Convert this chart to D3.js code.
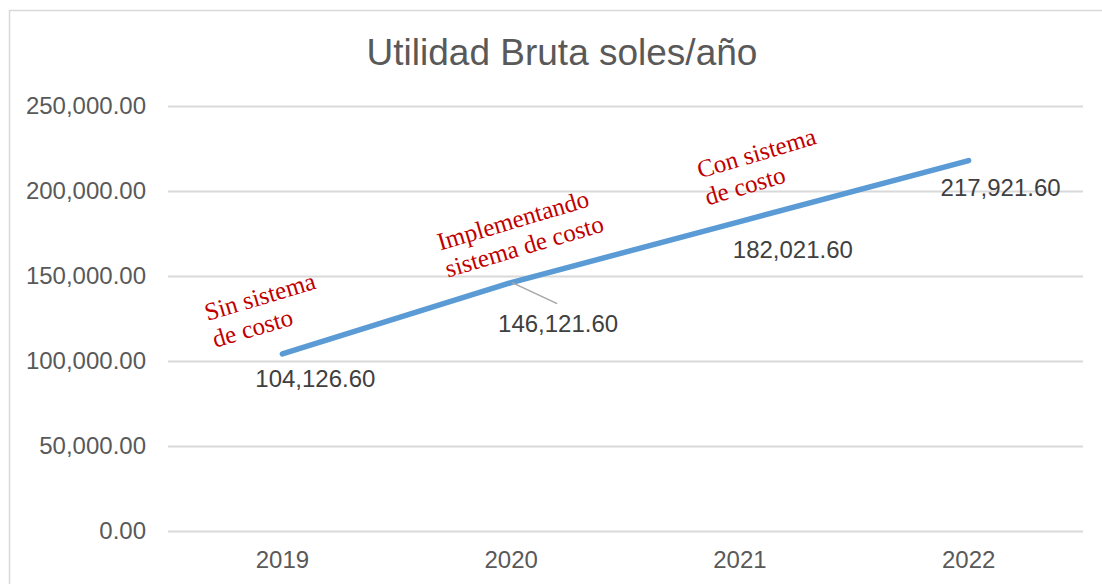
<!DOCTYPE html>
<html>
<head>
<meta charset="utf-8">
<script src="https://cdn.jsdelivr.net/npm/d3@7"></script>
<style>
  html, body { margin: 0; padding: 0; background: #fff; }
  svg { display: block; }
</style>
</head>
<body>
<svg id="chart"></svg>
<script>
const years = ["2019", "2020", "2021", "2022"];
const utilidad = [104126.60, 146121.60, 182021.60, 217921.60];
const yTicks = [0, 50000, 100000, 150000, 200000, 250000];
const notes = [
  ["Sin sistema", "de costo"],
  ["Implementando", "sistema de costo"],
  ["Con sistema", "de costo"],
];
const title = "Utilidad Bruta soles/año";

const width = 1102;
const height = 584;
const margin = { top: 106, right: 19, bottom: 53, left: 168 };

const svg = d3.select("#chart")
  .attr("width", width)
  .attr("height", height);

// chart area frame (runs past the bottom/right of the picture)
svg.append("rect")
  .attr("x", 9.5)
  .attr("y", 10.5)
  .attr("width", 1120)
  .attr("height", 620)
  .attr("fill", "#fff")
  .attr("stroke", "#d9d9d9")
  .attr("stroke-width", 1.5);

svg.append("text")
  .attr("x", 562)
  .attr("y", 65)
  .attr("text-anchor", "middle")
  .style("font-family", "'Liberation Sans', Arial, sans-serif")
  .style("font-size", "37px")
  .style("fill", "#595959")
  .text(title);

const x = d3.scaleBand()
  .domain(years)
  .range([margin.left, width - margin.right]);

const y = d3.scaleLinear()
  .domain([0, 250000])
  .range([height - margin.bottom, margin.top]);

const fmt = d3.format(",.2f");

// gridlines + y labels
const yAxis = svg.append("g")
  .attr("transform", `translate(${margin.left}, 0)`)
  .call(d3.axisLeft(y)
    .tickValues(yTicks)
    .tickFormat(fmt)
    .tickSize(-(width - margin.left - margin.right))
    .tickPadding(22));
yAxis.select(".domain").remove();
yAxis.selectAll(".tick line")
  .attr("stroke", "#d9d9d9")
  .attr("stroke-width", 2);
yAxis.selectAll(".tick text")
  .style("font-family", "'Liberation Sans', Arial, sans-serif")
  .style("font-size", "24px")
  .style("fill", "#595959");

// x labels
const xAxis = svg.append("g")
  .attr("transform", `translate(0, ${height - margin.bottom})`)
  .call(d3.axisBottom(x).tickSize(0).tickPadding(20));
xAxis.select(".domain").remove();
xAxis.selectAll(".tick text")
  .style("font-family", "'Liberation Sans', Arial, sans-serif")
  .style("font-size", "24px")
  .style("fill", "#595959");

const cx = (d, i) => x(years[i]) + x.bandwidth() / 2;

const line = d3.line()
  .x((d, i) => cx(d, i))
  .y((d) => y(d));

svg.append("path")
  .datum(utilidad)
  .attr("d", line)
  .attr("fill", "none")
  .attr("stroke", "#5b9bd5")
  .attr("stroke-width", 5.5)
  .attr("stroke-linecap", "round")
  .attr("stroke-linejoin", "round");

// data labels (offsets from each point)
const labelOffsets = [[33, 33], [47, 49], [53, 36], [32, 35]];

// leader line for the 2020 label
svg.append("line")
  .attr("x1", cx(utilidad[1], 1) + 1)
  .attr("y1", y(utilidad[1]))
  .attr("x2", cx(utilidad[1], 1) + 46)
  .attr("y2", y(utilidad[1]) + 21)
  .attr("stroke", "#a6a6a6")
  .attr("stroke-width", 1.5);

svg.selectAll(".dlabel")
  .data(utilidad)
  .enter()
  .append("text")
  .attr("class", "dlabel")
  .attr("x", (d, i) => cx(d, i) + labelOffsets[i][0])
  .attr("y", (d, i) => y(d) + labelOffsets[i][1])
  .attr("text-anchor", "middle")
  .style("font-family", "'Liberation Sans', Arial, sans-serif")
  .style("font-size", "24px")
  .style("fill", "#404040")
  .text((d) => fmt(d));

// red hand-placed notes, tilted along the line
const noteOffsets = [[-75, -33], [-71, -32], [-40, -43]];

svg.selectAll(".note")
  .data(notes)
  .enter()
  .append("text")
  .attr("class", "note")
  .attr("transform", (d, i) => {
    const px = cx(utilidad[i], i) + noteOffsets[i][0];
    const py = y(utilidad[i]) + noteOffsets[i][1];
    return `translate(${px}, ${py}) rotate(-16.5)`;
  })
  .style("font-family", "'Liberation Serif', 'Times New Roman', serif")
  .style("font-size", "25px")
  .style("fill", "#c00000")
  .selectAll("tspan")
  .data((d) => d)
  .enter()
  .append("tspan")
  .attr("x", 0)
  .attr("dy", (d, i) => i === 0 ? 0 : 28)
  .text((d) => d);
</script>
</body>
</html>
